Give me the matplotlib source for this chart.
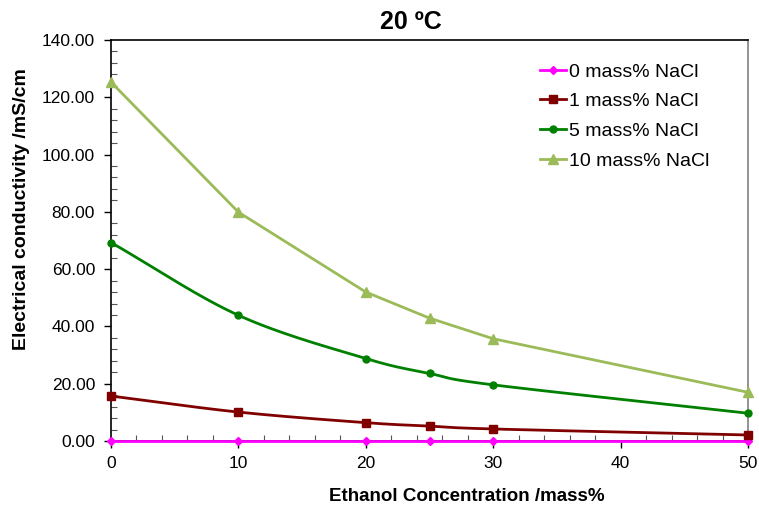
import numpy as np
import matplotlib
matplotlib.use("Agg")
import matplotlib.pyplot as plt
from matplotlib.ticker import MultipleLocator, FormatStrFormatter

plt.rcParams['font.family'] = ['Liberation Sans', 'DejaVu Sans']

ethanol = [0, 10, 20, 25, 30, 50]
nacl0 = [0.0, 0.0, 0.0, 0.0, 0.0, 0.0]
nacl1 = [15.7, 10.1, 6.4, 5.2, 4.2, 2.1]
nacl5 = [69.3, 43.9, 28.8, 23.6, 19.6, 9.7]
nacl10 = [125.3, 79.9, 52.0, 42.9, 35.7, 17.0]
labels = ['0 mass% NaCl', '1 mass% NaCl', '5 mass% NaCl', '10 mass% NaCl']


def smooth(x, y, n=30):
    x = np.asarray(x, float); y = np.asarray(y, float)
    px = np.concatenate([[2*x[0]-x[1]], x, [2*x[-1]-x[-2]]])
    py = np.concatenate([[2*y[0]-y[1]], y, [2*y[-1]-y[-2]]])
    xs, ys = [], []
    for i in range(1, len(px)-2):
        p0, p1, p2, p3 = (np.array([px[j], py[j]]) for j in range(i-1, i+3))
        c1 = p1 + (p2 - p0) / 6
        c2 = p2 - (p3 - p1) / 6
        t = np.linspace(0, 1, n)[:, None]
        b = (1-t)**3*p1 + 3*(1-t)**2*t*c1 + 3*(1-t)*t**2*c2 + t**3*p2
        xs.extend(b[:, 0]); ys.extend(b[:, 1])
    return xs, ys


fig = plt.figure(figsize=(7.59, 5.12), dpi=100)
ax = fig.add_axes([111/759, 1-441/512, (748-111)/759, (441-40)/512])

series = [
    (nacl0, '#FF00FF', 'D', 4, True),
    (nacl1, '#800000', 's', 6, True),
    (nacl5, '#008000', 'o', 5, True),
    (nacl10, '#9BBB59', '^', 7, False),
]
for (ys, c, m, ms, sm), lab in zip(series, labels):
    if sm:
        sx, sy = smooth(ethanol, ys)
    else:
        sx, sy = ethanol, ys
    ax.plot(sx, sy, color=c, lw=2, zorder=3, clip_on=False)
    ax.plot(ethanol, ys, ls='none', marker=m, ms=ms, color=c, zorder=4, clip_on=False)
    ax.plot([], [], color=c, lw=2, marker=m, ms=ms, label=lab)

ax.set_xlim(0, 50)
ax.set_ylim(0, 140)
ax.xaxis.set_major_locator(MultipleLocator(10))
ax.xaxis.set_minor_locator(MultipleLocator(2))
ax.yaxis.set_major_locator(MultipleLocator(20))
ax.yaxis.set_minor_locator(MultipleLocator(4))
ax.yaxis.set_major_formatter(FormatStrFormatter('%.2f'))
ax.tick_params(which='major', direction='out', length=5, width=1, labelsize=12.5, color='black')
ax.tick_params(which='minor', direction='in', length=4, width=0.8, color='#555555')
ax.tick_params(axis='x', which='major', pad=6)
ax.tick_params(axis='y', which='major', pad=6.5)

for s in ['left', 'bottom', 'top']:
    ax.spines[s].set_color('black')
    ax.spines[s].set_linewidth(1.2)
ax.spines['right'].set_color('#808080')
ax.spines['right'].set_linewidth(1.2)

ax.set_title('20 ºC', fontsize=18, fontweight='bold', pad=8, x=(411-111)/637)
ax.set_xlabel('Ethanol Concentration /mass%', fontsize=13.5, fontweight='bold')
ax.xaxis.set_label_coords((467-111)/637, (441-488)/401)
ax.set_ylabel('Electrical conductivity /mS/cm', fontsize=14, fontweight='bold')
ax.yaxis.set_label_coords((30-111)/637, (441-209)/401)

leg = ax.legend(loc='upper left', bbox_to_anchor=((540-111)/637, (441-63)/401), frameon=False,
                fontsize=14, borderpad=0, borderaxespad=0,
                handlelength=1.35, handletextpad=0.15, labelspacing=0.62)

fig.savefig('out.png', dpi=100)
